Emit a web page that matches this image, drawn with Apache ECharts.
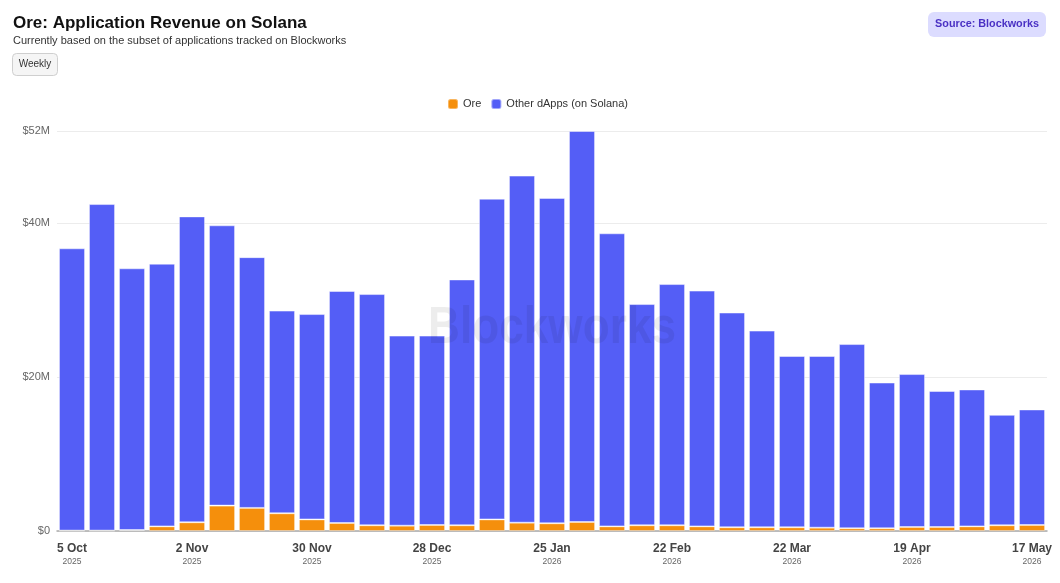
<!DOCTYPE html>
<html>
<head>
<meta charset="utf-8">
<script src="https://cdn.jsdelivr.net/npm/echarts@6/dist/echarts.min.js"></script>
<style>
  html, body { margin: 0; padding: 0; background: #fff; }
  #chart { width: 1060px; height: 583px; }
</style>
</head>
<body>
<div id="chart"></div>
<script>
// weekly buckets (week starting)
var weeks = [
  '2025-10-05', '2025-10-12', '2025-10-19', '2025-10-26', '2025-11-02', '2025-11-09',
  '2025-11-16', '2025-11-23', '2025-11-30', '2025-12-07', '2025-12-14', '2025-12-21',
  '2025-12-28', '2026-01-04', '2026-01-11', '2026-01-18', '2026-01-25', '2026-02-01',
  '2026-02-08', '2026-02-15', '2026-02-22', '2026-03-01', '2026-03-08', '2026-03-15',
  '2026-03-22', '2026-03-29', '2026-04-05', '2026-04-12', '2026-04-19', '2026-04-26',
  '2026-05-03', '2026-05-10', '2026-05-17'
];
// revenue in $M
var oreRevenue = [
  0.05, 0.05, 0.12, 0.6, 1.13, 3.3, 3.0, 2.3, 1.5, 1.04, 0.74, 0.69,
  0.78, 0.74, 1.5, 1.08, 1.0, 1.17, 0.6, 0.74, 0.74, 0.6, 0.48, 0.48,
  0.48, 0.43, 0.35, 0.35, 0.52, 0.52, 0.6, 0.74, 0.78
];
var otherRevenue = [
  36.7, 42.45, 34.03, 34.15, 39.77, 36.44, 32.6, 26.35, 26.7, 30.16, 30.06, 24.71,
  24.62, 31.96, 41.7, 45.12, 42.3, 50.83, 38.1, 28.76, 31.36, 30.65, 27.92, 25.57,
  22.27, 22.32, 23.95, 18.95, 19.88, 17.68, 17.8, 14.36, 15.02
];
var monthNames = ['Jan','Feb','Mar','Apr','May','Jun','Jul','Aug','Sep','Oct','Nov','Dec'];

var FONT = "'Liberation Sans', Arial, Helvetica, sans-serif";
var chart = echarts.init(document.getElementById('chart'));

var option = {
    backgroundColor: '#fff',
    textStyle: { fontFamily: FONT },
    animation: false,
    title: {
        text: 'Ore: Application Revenue on Solana',
        subtext: 'Currently based on the subset of applications tracked on Blockworks',
        left: 13,
        top: 15,
        padding: 0,
        itemGap: 3,
        textStyle: { fontSize: 17, fontWeight: 'bold', color: '#111', fontFamily: FONT },
        subtextStyle: { fontSize: 11, color: '#333', fontFamily: FONT }
    },
    legend: {
        top: 93,
        left: 442,
        icon: 'roundRect',
        itemWidth: 10,
        itemHeight: 10,
        itemGap: 9,
        textStyle: { fontSize: 11, color: '#333', fontFamily: FONT },
        data: ['Ore', 'Other dApps (on Solana)']
    },
    grid: {
        left: 57,
        right: 13,
        top: 131,
        bottom: 52
    },
    xAxis: {
        type: 'category',
        data: weeks,
        axisTick: { show: false },
        axisLine: { lineStyle: { color: '#aaa', width: 1.5 } },
        axisLabel: {
            interval: 3,
            margin: 10,
            formatter: function (v) {
                var p = v.split('-');
                return '{d|' + parseInt(p[2], 10) + ' ' + monthNames[parseInt(p[1], 10) - 1] + '}\n{y|' + p[0] + '}';
            },
            rich: {
                d: { fontSize: 12, fontWeight: 'bold', color: '#444', fontFamily: FONT, lineHeight: 15 },
                y: { fontSize: 8.5, color: '#666', fontFamily: FONT, lineHeight: 12 }
            }
        }
    },
    yAxis: {
        type: 'value',
        min: 0,
        max: 52,
        interval: 20,
        axisLine: { show: false },
        axisTick: { show: false },
        splitLine: { lineStyle: { color: '#ececec' } },
        axisLabel: {
            margin: 7,
            fontSize: 11,
            color: '#666',
            fontFamily: FONT,
            formatter: function (v) { return v === 0 ? '$0' : '$' + v + 'M'; }
        }
    },
    series: [
        {
            name: 'Ore',
            type: 'bar',
            stack: 'rev',
            barCategoryGap: '13%',
            data: oreRevenue,
            itemStyle: { color: '#F58F0C', borderColor: 'rgba(255,255,255,0.35)', borderWidth: 1 }
        },
        {
            name: 'Other dApps (on Solana)',
            type: 'bar',
            stack: 'rev',
            barCategoryGap: '13%',
            data: otherRevenue,
            itemStyle: { color: '#545EF6', borderColor: 'rgba(255,255,255,0.45)', borderWidth: 1 }
        }
    ],
    graphic: [
        {
            type: 'group',
            left: 12,
            top: 53,
            children: [
                {
                    type: 'rect',
                    shape: { x: 0, y: 0, width: 45, height: 22, r: 4 },
                    style: { fill: '#f5f5f5', stroke: '#cfcfcf', lineWidth: 1 }
                },
                {
                    type: 'text',
                    x: 22.5, y: 11,
                    style: { text: 'Weekly', fill: '#333', fontSize: 10, fontFamily: FONT, align: 'center', verticalAlign: 'middle' }
                }
            ]
        },
        {
            type: 'group',
            right: 14,
            top: 12,
            children: [
                {
                    type: 'rect',
                    shape: { x: 0, y: 0, width: 118, height: 25, r: 6 },
                    style: { fill: '#dcdcff' }
                },
                {
                    type: 'text',
                    x: 59, y: 12.5,
                    style: { text: 'Source: Blockworks', fill: '#4a31c4', fontSize: 10.8, fontWeight: 'bold', fontFamily: FONT, align: 'center', verticalAlign: 'middle' }
                }
            ]
        },
        {
            type: 'text',
            x: 428,
            y: 329,
            scaleX: 0.85,
            z: 100,
            silent: true,
            style: { x: 0, y: 0, text: 'Blockworks', fill: 'rgba(0,0,0,0.07)', fontSize: 52, fontWeight: 'bold', fontFamily: FONT, align: 'left', verticalAlign: 'middle' }
        }
    ]
};
chart.setOption(option);
</script>
</body>
</html>
